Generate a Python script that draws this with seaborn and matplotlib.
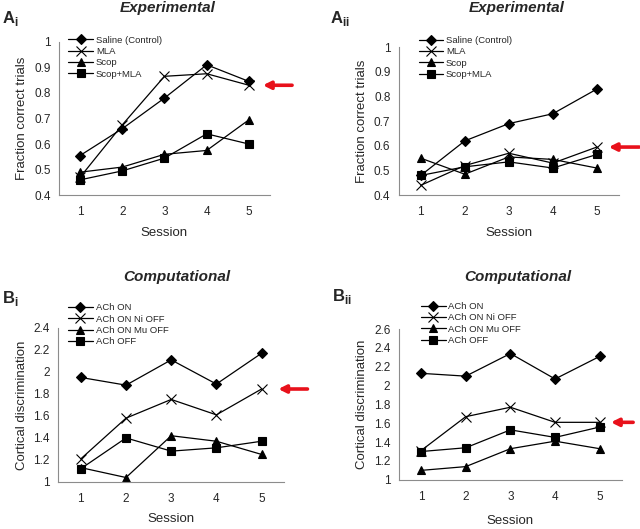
import numpy as np
import seaborn as sns
import matplotlib.pyplot as plt

# Sessões (eixo x comum)
sessoes = [1, 2, 3, 4, 5]

# Painel Ai - experimental
ai_saline = [0.555, 0.66, 0.78, 0.91, 0.845]
ai_mla = [0.47, 0.675, 0.865, 0.875, 0.83]
ai_scop = [0.49, 0.51, 0.56, 0.575, 0.695]
ai_scop_mla = [0.46, 0.495, 0.545, 0.64, 0.60]

# Painel Aii - experimental
aii_saline = [0.48, 0.62, 0.69, 0.73, 0.83]
aii_mla = [0.44, 0.52, 0.57, 0.53, 0.595]
aii_scop = [0.55, 0.485, 0.555, 0.545, 0.51]
aii_scop_mla = [0.48, 0.515, 0.535, 0.51, 0.565]

# Painel Bi - computacional
bi_on = [1.95, 1.88, 2.11, 1.89, 2.17]
bi_ni_off = [1.21, 1.58, 1.75, 1.61, 1.845]
bi_mu_off = [1.13, 1.04, 1.42, 1.37, 1.25]
bi_off = [1.12, 1.40, 1.28, 1.31, 1.37]

# Painel Bii - computacional
bii_on = [2.13, 2.10, 2.34, 2.07, 2.31]
bii_ni_off = [1.31, 1.67, 1.77, 1.61, 1.61]
bii_mu_off = [1.10, 1.14, 1.33, 1.41, 1.33]
bii_off = [1.30, 1.34, 1.53, 1.45, 1.56]

nomes_exp = ["Saline (Control)", "MLA", "Scop", "Scop+MLA"]
nomes_comp = ["ACh ON", "ACh ON Ni OFF", "ACh ON Mu OFF", "ACh OFF"]
marcadores = ["D", "x", "^", "s"]
tamanhos = [5, 7.5, 6, 5.5]

sns.set_style("white")
plt.rcParams['font.family'] = ['Liberation Sans', 'DejaVu Sans']
plt.rcParams['mathtext.fontset'] = 'custom'
plt.rcParams['mathtext.bf'] = 'Liberation Sans:bold'

fig = plt.figure(figsize=(6.4, 5.29), dpi=100)

cinza = '#8c8c8c'


def painel(pos, series, nomes, ylim, yticks, ylabel, titulo, titulo_xy, rotulo, rotulo_xy,
           leg_xy, seta_y, seta_x, seta_len, pad_x=6):
    ax = fig.add_axes(pos)
    for vals, nome, m, ms in zip(series, nomes, marcadores, tamanhos):
        sns.lineplot(x=sessoes, y=vals, ax=ax, color='black', linewidth=0.9, marker=m,
                     markersize=ms, markeredgecolor='black', markerfacecolor='black',
                     markeredgewidth=0.8, label=nome)
    ax.set_xlim(0.5, 5.5)
    ax.set_ylim(*ylim)
    ax.set_yticks(yticks)
    ax.set_yticklabels([f"{t:g}" for t in yticks], fontsize=8.5)
    ax.set_xticks(sessoes)
    ax.set_xticklabels([str(s) for s in sessoes], fontsize=8.5)
    ax.set_xticks([1.5, 2.5, 3.5, 4.5, 5.5], minor=True)
    ax.tick_params(axis='x', which='major', length=0, pad=8)
    ax.tick_params(axis='x', which='minor', length=4, color=cinza, width=0.8, direction='out')
    ax.tick_params(axis='y', length=4, color=cinza, width=0.8, direction='out', pad=2)
    for lado in ['top', 'right']:
        ax.spines[lado].set_visible(False)
    for lado in ['left', 'bottom']:
        ax.spines[lado].set_color(cinza)
        ax.spines[lado].set_linewidth(0.8)
    ax.set_xlabel("Session", fontsize=9.5, labelpad=pad_x)
    ax.set_ylabel(ylabel, fontsize=9.5, labelpad=4)
    ax.legend(loc='upper left', bbox_to_anchor=leg_xy, frameon=False, fontsize=6.8,
              handlelength=2.6, handletextpad=0.3, labelspacing=0.25, borderpad=0,
              borderaxespad=0)
    # seta vermelha apontando para a série "sem nicotínico"
    ax.annotate('', xy=(seta_x, seta_y), xycoords='data',
                xytext=(seta_len, 0), textcoords='offset points',
                arrowprops=dict(arrowstyle='-|>', color='#e8111b', lw=2.6,
                                mutation_scale=11, shrinkA=0, shrinkB=0),
                annotation_clip=False)
    fig.text(titulo_xy[0], titulo_xy[1], titulo, fontsize=11, fontweight='bold',
             fontstyle='italic', ha='center', va='center')
    fig.text(rotulo_xy[0], rotulo_xy[1], rotulo, fontsize=12, ha='left', va='center')
    return ax


painel([0.092, 0.631, 0.330, 0.290], [ai_saline, ai_mla, ai_scop, ai_scop_mla], nomes_exp,
       (0.4, 1.0), [0.4, 0.5, 0.6, 0.7, 0.8, 0.9, 1.0], "Fraction correct trials",
       "Experimental", (0.262, 0.985), r'$\mathbf{A}_{\mathbf{i}}$', (0.003, 0.965),
       (0.045, 1.04), ai_mla[-1], 5.33, 21)

painel([0.623, 0.631, 0.344, 0.280], [aii_saline, aii_mla, aii_scop, aii_scop_mla], nomes_exp,
       (0.4, 1.0), [0.4, 0.5, 0.6, 0.7, 0.8, 0.9, 1.0], "Fraction correct trials",
       "Experimental", (0.808, 0.985), r'$\mathbf{A}_{\mathbf{ii}}$', (0.515, 0.965),
       (0.09, 1.075), aii_mla[-1], 5.27, 22)

painel([0.091, 0.089, 0.353, 0.291], [bi_on, bi_ni_off, bi_mu_off, bi_off], nomes_comp,
       (1.0, 2.4), [1, 1.2, 1.4, 1.6, 1.8, 2, 2.2, 2.4], "Cortical discrimination",
       "Computational", (0.277, 0.476), r'$\mathbf{B}_{\mathbf{i}}$', (0.003, 0.435),
       (0.044, 1.16), bi_ni_off[-1], 5.37, 21, pad_x=6)

painel([0.623, 0.093, 0.349, 0.285], [bii_on, bii_ni_off, bii_mu_off, bii_off], nomes_comp,
       (1.0, 2.6), [1, 1.2, 1.4, 1.6, 1.8, 2, 2.2, 2.4, 2.6], "Cortical discrimination",
       "Computational", (0.809, 0.476), r'$\mathbf{B}_{\mathbf{ii}}$', (0.518, 0.44),
       (0.1, 1.18), bii_ni_off[-1], 5.25, 16, pad_x=9)

fig.savefig("out.png", dpi=100)
